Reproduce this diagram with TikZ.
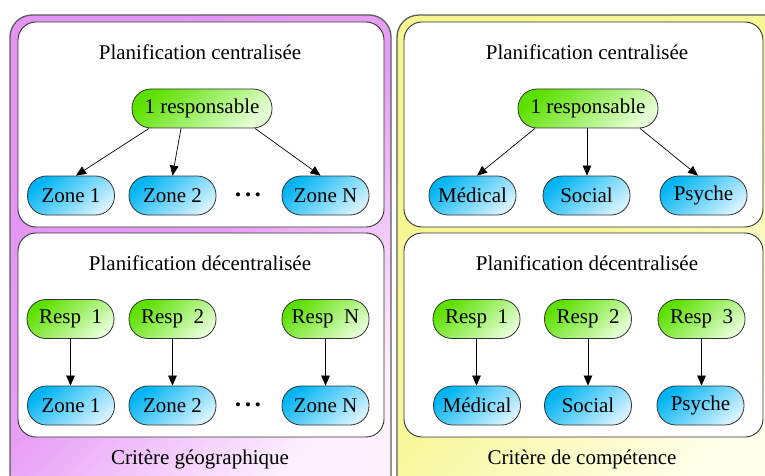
\documentclass[tikz,border=0pt]{standalone}
\usepackage{fontspec}
\setmainfont{Liberation Serif}
\newfontfamily\tnr{Liberation Serif}
\usetikzlibrary{arrows.meta}
\definecolor{gdark}{HTML}{5CE000}
\definecolor{glight}{HTML}{E4FFD4}
\definecolor{bdark}{HTML}{00B4F2}
\definecolor{blight}{HTML}{D4F2FF}
\definecolor{pdark}{HTML}{E493F4}
\definecolor{plight}{HTML}{FDF2FF}
\definecolor{ydark}{HTML}{F6F690}
\definecolor{ylight}{HTML}{FFFFEA}
\definecolor{edgegray}{HTML}{333333}
\begin{document}
\begin{tikzpicture}[x=1pt,y=-1pt,
  font=\tnr\fontsize{21}{25}\selectfont,
  pill/.style={draw=edgegray, line width=0.8pt, rounded corners=19pt,
    minimum height=39pt, minimum width=87pt, inner sep=0pt},
  respbox/.style={pill, top color=gdark, bottom color=glight, shading angle=40},
  zonebox/.style={pill, top color=bdark, bottom color=blight, shading angle=40},
  bigresp/.style={respbox, minimum width=140pt},
  inner/.style={draw=edgegray, line width=0.9pt, fill=white, rounded corners=18pt},
  outerbox/.style={draw=edgegray!80, line width=1.3pt, rounded corners=22pt},
  arr/.style={line width=0.7pt, -{Triangle[length=10pt,width=8.5pt]}},
  txt/.style={inner sep=0pt},
  dotsnode/.style={inner sep=0pt, font=\tnr\fontsize{17}{19}\selectfont}
]
\useasboundingbox (0,0) rectangle (765,476);
\clip (0,0) rectangle (765,476);

% outer clusters
\draw[outerbox, top color=pdark, bottom color=plight, middle color=pdark!88!plight, shading angle=45] (10,15) rectangle (391,500);
\draw[outerbox, top color=ydark, bottom color=ylight, middle color=ydark!88!ylight, shading angle=45] (397,15) rectangle (790,500);

% inner clusters
\draw[inner] (18,22) rectangle (384,227);
\draw[inner] (18,233) rectangle (384,437);
\draw[inner] (404,22) rectangle (763,227);
\draw[inner] (404,233) rectangle (763,437);

% titles
\node[txt] (t1) at (200,52) {Planification centralisée};
\node[txt] (t2) at (200,263) {Planification décentralisée};
\node[txt] (t3) at (587,52) {Planification centralisée};
\node[txt] (t4) at (587,263) {Planification décentralisée};
\node[txt] (c1) at (200,459) {Critère géographique};
\node[txt] (c2) at (582,459) {Critère de compétence};

% left top
\node[bigresp] (lr) at (202,108.5) {1 responsable};
\node[zonebox] (lz1) at (71,195.5) {Zone 1};
\node[zonebox] (lz2) at (172.5,195.5) {Zone 2};
\node[zonebox] (lzn) at (325.5,195.5) {Zone N};
\node[dotsnode] (ld1) at (248,197) {•\hspace{4pt}•\hspace{4pt}•};
\draw[arr] ([xshift=-53pt]lr.south) -- ([xshift=5pt]lz1.north);
\draw[arr] ([xshift=-21pt]lr.south) -- (lz2.north);
\draw[arr] ([xshift=53pt]lr.south) -- ([xshift=-5pt]lzn.north);

% left bottom
\node[respbox] (lb1) at (70.5,319) {Resp\ \ 1};
\node[respbox] (lb2) at (172.5,319) {Resp\ \ 2};
\node[respbox] (lbn) at (325.5,319) {Resp\ \ N};
\node[zonebox] (lbz1) at (71,405.5) {Zone 1};
\node[zonebox] (lbz2) at (172.5,405.5) {Zone 2};
\node[zonebox] (lbzn) at (325.5,405.5) {Zone N};
\node[dotsnode] (ld2) at (248,407) {•\hspace{4pt}•\hspace{4pt}•};
\draw[arr] (lb1.south) -- (lb1.south |- lbz1.north);
\draw[arr] (lb2.south) -- (lb2.south |- lbz2.north);
\draw[arr] (lbn.south) -- (lbn.south |- lbzn.north);

% right top
\node[bigresp] (rr) at (588,108.5) {1 responsable};
\node[zonebox] (rz1) at (472.5,195.5) {Médical};
\node[zonebox] (rz2) at (586.5,195.5) {Social};
\node[zonebox] (rz3) at (703.5,195.5) {Psyche};
\draw[arr] ([xshift=-53pt]rr.south) -- ([xshift=4.5pt]rz1.north);
\draw[arr] ([xshift=-1pt]rr.south) -- ([xshift=0.5pt]rz2.north);
\draw[arr] ([xshift=52pt]rr.south) -- ([xshift=-5.5pt]rz3.north);

% right bottom
\node[respbox] (rb1) at (476.5,319) {Resp\ \ 1};
\node[respbox] (rb2) at (588,319) {Resp\ \ 2};
\node[respbox] (rb3) at (701.5,319) {Resp\ \ 3};
\node[zonebox] (rbz1) at (477,405.5) {Médical};
\node[zonebox] (rbz2) at (588,405.5) {Social};
\node[zonebox] (rbz3) at (700.5,405.5) {Psyche};
\draw[arr] (rb1.south) -- (rb1.south |- rbz1.north);
\draw[arr] (rb2.south) -- (rb2.south |- rbz2.north);
\draw[arr] (rb3.south) -- (rb3.south |- rbz3.north);
\end{tikzpicture}
\end{document}
